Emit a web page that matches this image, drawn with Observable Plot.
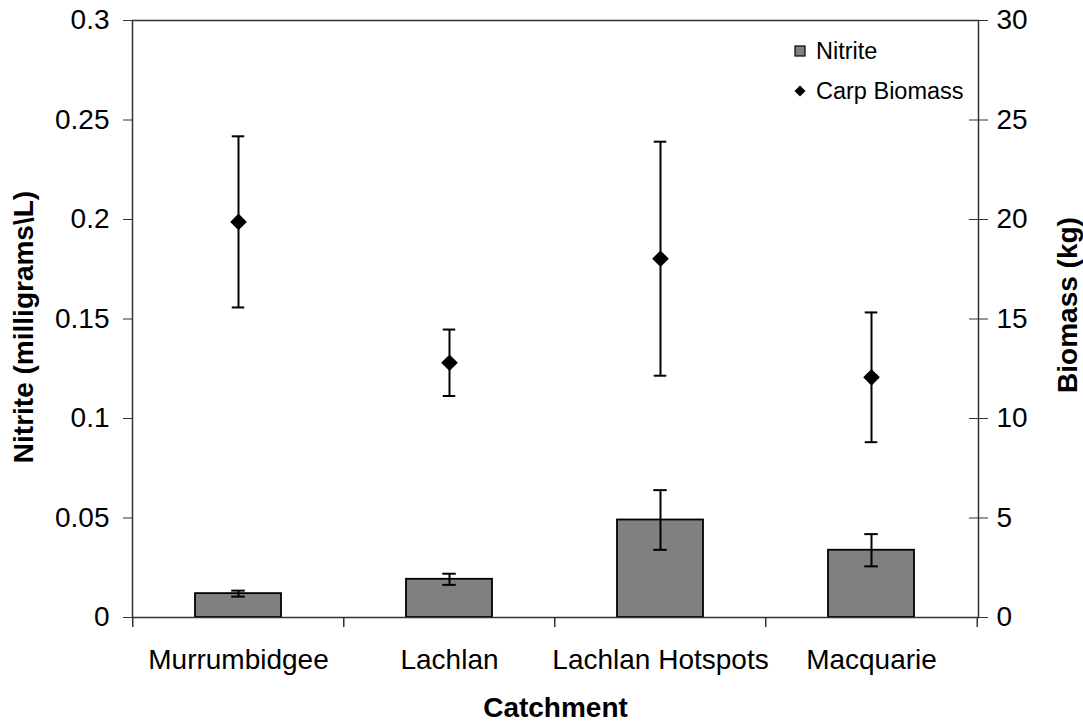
<!DOCTYPE html>
<html>
<head>
<meta charset="utf-8">
<script src="https://cdn.jsdelivr.net/npm/d3@7"></script>
<script src="https://cdn.jsdelivr.net/npm/@observablehq/plot@0.6"></script>
<style>
  html, body { margin: 0; padding: 0; background: #fff; }
  #chart { position: relative; width: 1083px; height: 722px; font-family: "Liberation Sans", Arial, sans-serif; }
  #legend { position: absolute; left: 792px; top: 31px; font-size: 23.5px; color: #000; }
  #legend .row { display: flex; align-items: center; height: 40px; }
  #legend svg { width: 16px; height: 16px; margin-right: 8px; }
</style>
</head>
<body>
<div id="chart">
  <div id="legend">
    <div class="row"><svg viewBox="0 0 16 16"><rect x="3" y="3" width="10" height="10" fill="#808080" stroke="#000" stroke-width="1.2"/></svg><span>Nitrite</span></div>
    <div class="row"><svg viewBox="0 0 16 16"><path d="M8 2.5L13.5 8L8 13.5L2.5 8Z" fill="#000"/></svg><span>Carp Biomass</span></div>
  </div>
</div>
<script>
// Catchments sampled
const categories = ["Murrumbidgee", "Lachlan", "Lachlan Hotspots", "Macquarie"];

// Mean nitrite (mg/L) with standard error
const nitrite = [0.012, 0.0192, 0.049, 0.0338];
const nitriteErr = [0.0015, 0.0028, 0.015, 0.0081];

// Mean carp biomass (kg) with standard error
const biomass = [19.88, 12.8, 18.03, 12.07];
const biomassErr = [4.3, 1.67, 5.88, 3.26];

// Axis ticks
const nitriteTicks = [0, 0.05, 0.1, 0.15, 0.2, 0.25, 0.3];
const nitriteTickLabels = ["0", "0.05", "0.1", "0.15", "0.2", "0.25", "0.3"];
const biomassTicks = [0, 5, 10, 15, 20, 25, 30];
const biomassTickLabels = ["0", "5", "10", "15", "20", "25", "30"];

// Biomass shares the nitrite y scale: 30 kg on the right = 0.3 mg/L on the left
const k = nitriteTicks[nitriteTicks.length - 1] / biomassTicks[biomassTicks.length - 1];

const rows = categories.map((c, i) => ({
  catchment: c,
  nitrite: nitrite[i],
  nitriteLo: nitrite[i] - nitriteErr[i],
  nitriteHi: nitrite[i] + nitriteErr[i],
  biomass: biomass[i] * k,
  biomassLo: (biomass[i] - biomassErr[i]) * k,
  biomassHi: (biomass[i] + biomassErr[i]) * k
}));

const W = 1083, H = 722;
const mL = 132, mR = 105, mT = 20, mB = 105;
const plotW = W - mL - mR;
const step = plotW / categories.length;
const barWidth = 86.5;
const capWidth = 14;
const capInset = (barWidth - capWidth) / 2;
const axisColor = "#333";

const nitriteLabel = new Map(nitriteTicks.map((t, i) => [t, nitriteTickLabels[i]]));
const biomassLabel = new Map(biomassTicks.map((t, i) => [t * k, biomassTickLabels[i]]));

const chart = Plot.plot({
  width: W,
  height: H,
  marginLeft: mL,
  marginRight: mR,
  marginTop: mT,
  marginBottom: mB,
  style: {fontFamily: "'Liberation Sans', Arial, sans-serif", fontSize: "28px", color: "#000", background: "#fff", overflow: "visible"},
  x: {domain: categories, paddingInner: 1 - barWidth / step, paddingOuter: (1 - barWidth / step) / 2, axis: null},
  y: {domain: [0, 0.3], axis: null},
  marks: [
    // nitrite bars with error bars
    Plot.barY(rows, {x: "catchment", y: "nitrite", fill: "#808080", stroke: "#000", strokeWidth: 1.8}),
    Plot.ruleX(rows, {x: "catchment", y1: "nitriteLo", y2: "nitriteHi", stroke: "#000", strokeWidth: 2}),
    Plot.tickY(rows, {x: "catchment", y: "nitriteLo", stroke: "#000", strokeWidth: 2, insetLeft: capInset, insetRight: capInset}),
    Plot.tickY(rows, {x: "catchment", y: "nitriteHi", stroke: "#000", strokeWidth: 2, insetLeft: capInset, insetRight: capInset}),

    // carp biomass diamonds with error bars
    Plot.ruleX(rows, {x: "catchment", y1: "biomassLo", y2: "biomassHi", stroke: "#000", strokeWidth: 2}),
    Plot.tickY(rows, {x: "catchment", y: "biomassLo", stroke: "#000", strokeWidth: 2, insetLeft: capInset + 0.5, insetRight: capInset + 0.5}),
    Plot.tickY(rows, {x: "catchment", y: "biomassHi", stroke: "#000", strokeWidth: 2, insetLeft: capInset + 0.5, insetRight: capInset + 0.5}),
    Plot.dot(rows, {x: "catchment", y: "biomass", symbol: "diamond2", r: 7.5, fill: "#000", stroke: "none"}),

    // plot border
    Plot.frame({stroke: axisColor, strokeWidth: 1.5}),

    // left axis (nitrite)
    Plot.axisY({anchor: "left", ticks: nitriteTicks, tickFormat: d => nitriteLabel.get(d), tickSize: 9, tickPadding: 14, fontSize: 28, stroke: axisColor, label: null}),
    // right axis (biomass), ticks crossing the axis line
    Plot.axisY({anchor: "right", ticks: biomassTicks.map(b => b * k), tickFormat: d => biomassLabel.get(d), tickSize: 9, tickPadding: 9, fontSize: 28, stroke: axisColor, label: null}),
    Plot.tickY(biomassTicks, {y: b => b * k, insetLeft: plotW - 9, stroke: axisColor}),

    // category axis: labels under each bar, ticks between categories
    Plot.axisX({anchor: "bottom", tickSize: 0, tickPadding: 32, fontSize: 28, label: null}),
    Plot.ruleX(categories, {x: d => d, y1: 0, y2: -0.005, dx: -step / 2, stroke: axisColor, strokeWidth: 1.5}),
    Plot.ruleX(categories.slice(-1), {x: d => d, y1: 0, y2: -0.005, dx: step / 2, stroke: axisColor, strokeWidth: 1.5}),

    // axis titles
    Plot.text(["Nitrite (milligrams\\L)"], {frameAnchor: "left", textAnchor: "middle", lineAnchor: "middle", rotate: -90, dx: -108, dy: 8, fontSize: 28, fontWeight: "bold"}),
    Plot.text(["Biomass (kg)"], {frameAnchor: "right", textAnchor: "middle", lineAnchor: "middle", rotate: -90, dx: 90, dy: -14, fontSize: 28, fontWeight: "bold"}),
    Plot.text(["Catchment"], {frameAnchor: "bottom", textAnchor: "middle", lineAnchor: "middle", dy: 91, fontSize: 28, fontWeight: "bold"})
  ]
});

document.getElementById("chart").prepend(chart);
</script>
</body>
</html>
